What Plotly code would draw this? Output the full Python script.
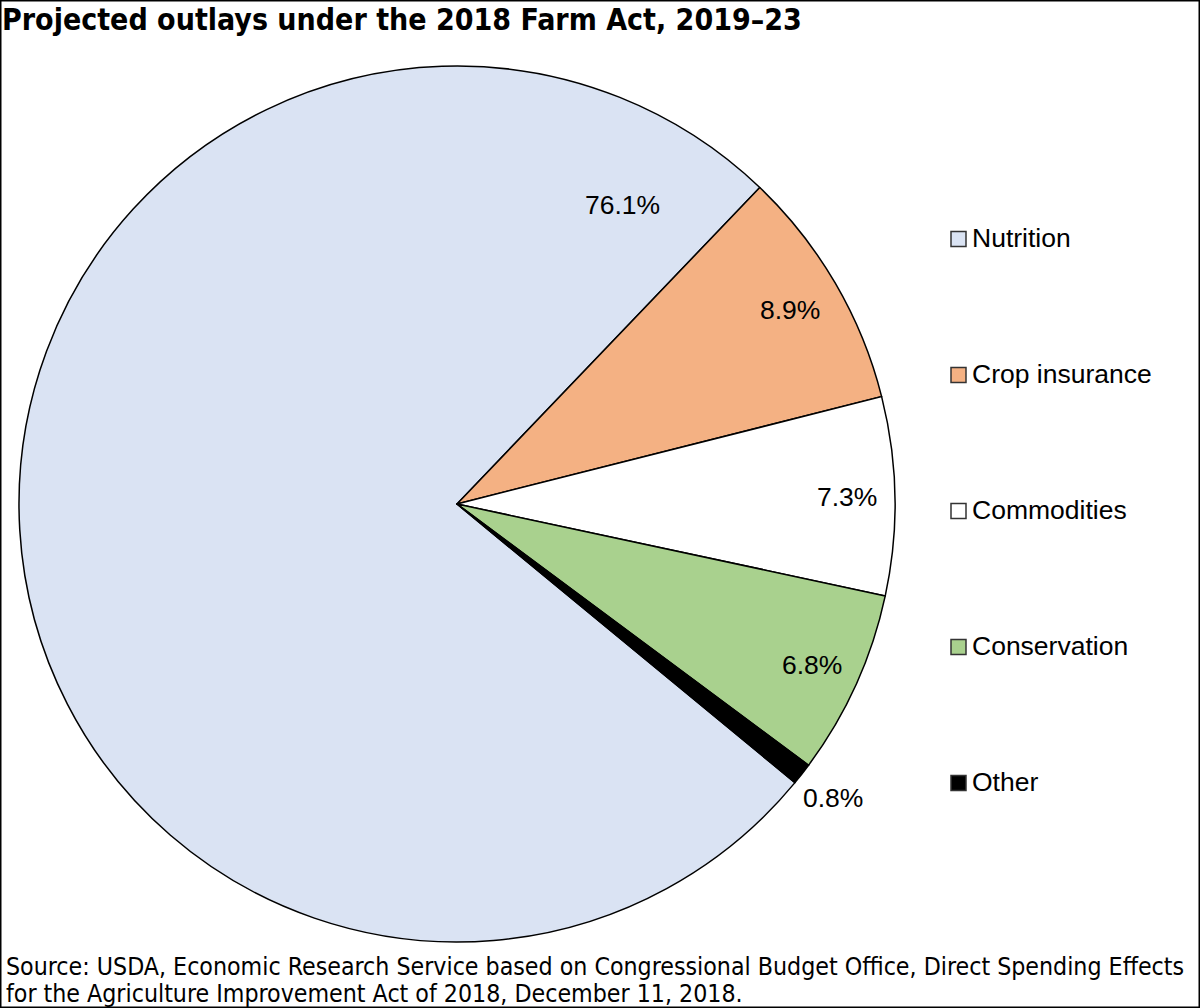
import math
import plotly.graph_objects as go

# ---- data ----
categories = ["Nutrition", "Crop insurance", "Commodities", "Conservation", "Other"]
shares = [76.1, 8.9, 7.3, 6.8, 0.8]
colors = ["#DAE3F3", "#F4B183", "#FFFFFF", "#A9D18E", "#000000"]
title_text = "Projected outlays under the 2018 Farm Act, 2019\u201323"
source_lines = [
    "Source: USDA, Economic Research Service based on Congressional Budget Office, Direct Spending Effects",
    "for the Agriculture Improvement Act of 2018, December 11, 2018.",
]

# ---- layout constants ----
W, H = 1200, 1008
CX, CY, R = 457, 504, 438          # pie centre / radius in px
ROTATION = 129.5                   # start of first slice, deg clockwise from 12 o'clock
label_radius = [0.78, 0.88, 0.89, 0.89, 1.09]
label_angle_override = {0: 29.0}   # Nutrition label sits in upper part of slice

FONT = "Liberation Sans, Arial, sans-serif"
NARROW = "Liberation Sans Narrow, Arial Narrow, DejaVu Sans Condensed, sans-serif"

fig = go.Figure()
fig.add_trace(go.Pie(
    labels=categories,
    values=shares,
    sort=False,
    direction="clockwise",
    rotation=ROTATION,
    marker=dict(colors=colors, line=dict(color="#000000", width=1.5)),
    textinfo="none",
    hoverinfo="label+percent",
    showlegend=False,
    domain=dict(x=[(CX - R) / W, (CX + R) / W], y=[1 - (CY + R) / H, 1 - (CY - R) / H]),
))

annotations = []
shapes = []

# percentage labels positioned from cumulative shares
total = sum(shares)
cum = 0.0
for i, v in enumerate(shares):
    mid = ROTATION + (cum + v / 2) / total * 360
    cum += v
    ang = label_angle_override.get(i, mid)
    a = math.radians(ang)
    px = CX + label_radius[i] * R * math.sin(a)
    py = CY - label_radius[i] * R * math.cos(a)
    annotations.append(dict(
        x=px / W, y=1 - py / H, xref="paper", yref="paper",
        text=f"{v:.1f}%", showarrow=False, xanchor="center", yanchor="middle",
        font=dict(family=FONT, size=26.5, color="#000000"),
    ))

# custom legend
LEG_X, LEG_Y0, LEG_DY, SQ = 951, 239, 136, 15
for i, (c, col) in enumerate(zip(categories, colors)):
    yc = LEG_Y0 + i * LEG_DY
    shapes.append(dict(
        type="rect", xref="paper", yref="paper",
        x0=LEG_X / W, x1=(LEG_X + SQ) / W,
        y0=1 - (yc + SQ / 2) / H, y1=1 - (yc - SQ / 2) / H,
        fillcolor=col, line=dict(color="#333333", width=1.5),
    ))
    annotations.append(dict(
        x=(LEG_X + SQ + 4) / W, y=1 - (yc - 1) / H, xref="paper", yref="paper",
        text=c, showarrow=False, xanchor="left", yanchor="middle",
        font=dict(family=FONT, size=26.5, color="#000000"),
    ))

# title
annotations.append(dict(
    x=0, y=1, xref="paper", yref="paper", text=f"<b>{title_text}</b>",
    showarrow=False, xanchor="left", yanchor="top",
    font=dict(family=NARROW, size=30, color="#000000"),
))

# source
for j, line in enumerate(source_lines):
    annotations.append(dict(
        x=4 / W, y=1 - (966 + j * 27) / H, xref="paper", yref="paper", text=line,
        showarrow=False, xanchor="left", yanchor="middle",
        font=dict(family=NARROW, size=24.7, color="#000000"),
    ))

# outer border
shapes.append(dict(type="rect", xref="paper", yref="paper", x0=0, x1=1, y0=0, y1=1,
                   line=dict(color="#000000", width=3), fillcolor="rgba(0,0,0,0)"))

fig.update_layout(
    width=W, height=H,
    margin=dict(l=0, r=0, t=0, b=0),
    paper_bgcolor="#FFFFFF", plot_bgcolor="#FFFFFF",
    annotations=annotations, shapes=shapes,
    showlegend=False,
)

fig.write_html("out.html", config={"displayModeBar": False},
               post_script="document.body.style.margin='0';")
